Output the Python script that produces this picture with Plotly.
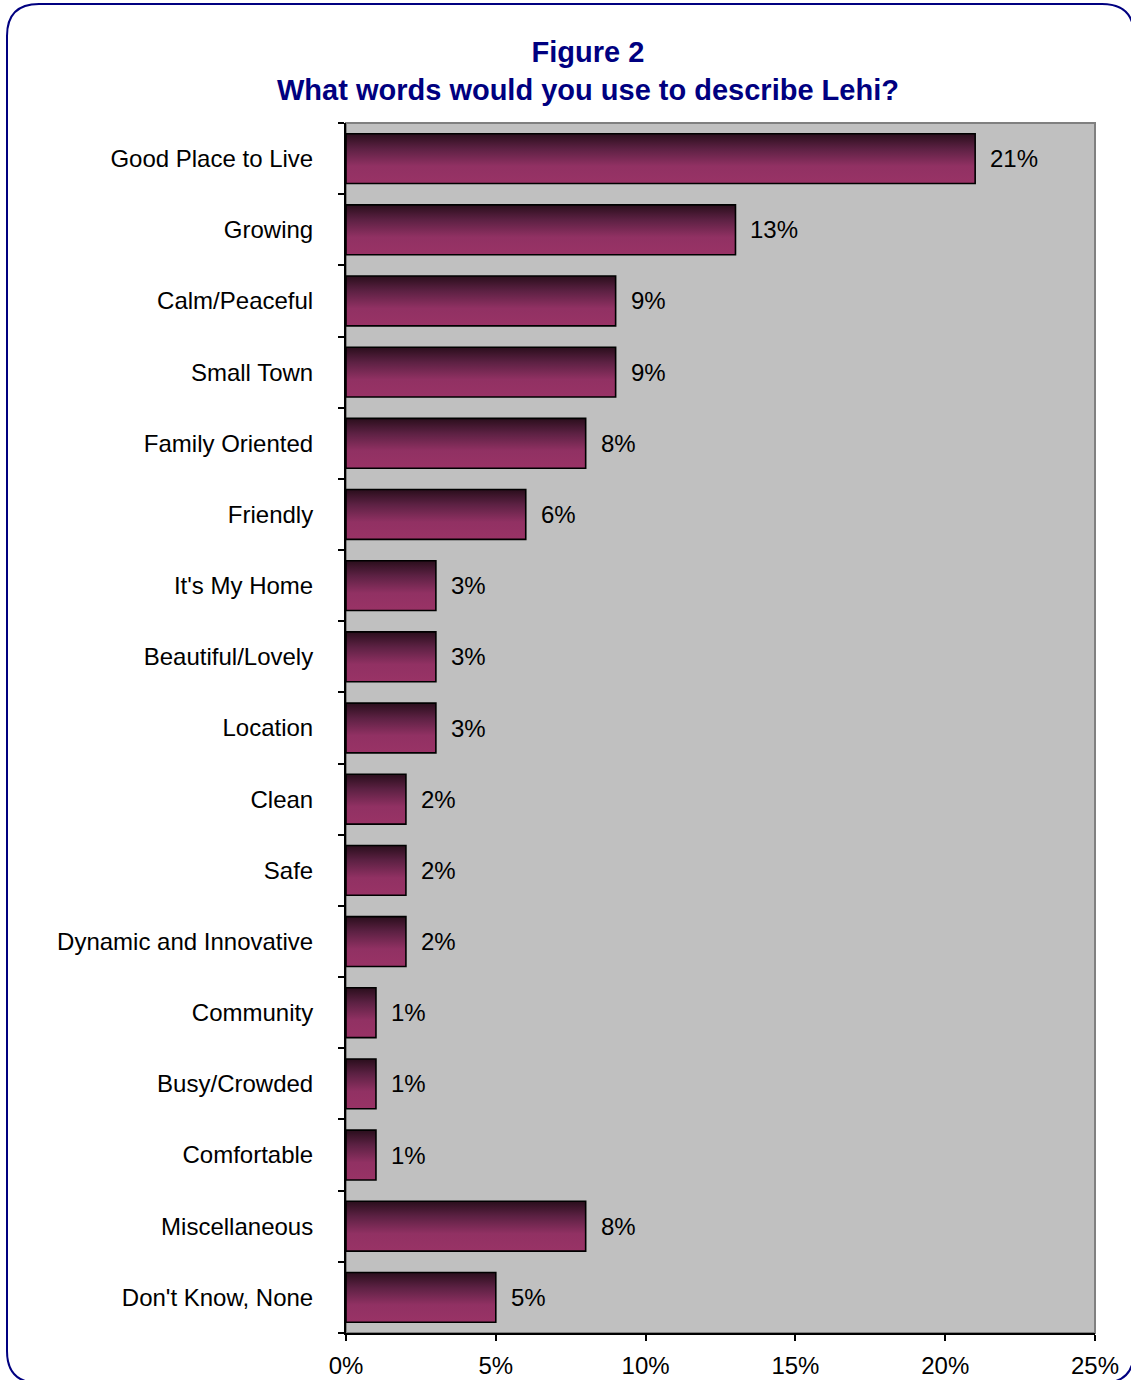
import plotly.graph_objects as go

# Survey responses: words used to describe Lehi (percent of respondents)
categories = [
    "Good Place to Live", "Growing", "Calm/Peaceful", "Small Town",
    "Family Oriented", "Friendly", "It's My Home", "Beautiful/Lovely",
    "Location", "Clean", "Safe", "Dynamic and Innovative", "Community",
    "Busy/Crowded", "Comfortable", "Miscellaneous", "Don't Know, None",
]
values = [21, 13, 9, 9, 8, 6, 3, 3, 3, 2, 2, 2, 1, 1, 1, 8, 5]
x_ticks = [0, 5, 10, 15, 20, 25]

W, H = 1131, 1380
L, R, T, B = 346, 36, 123, 47
PW, PH = W - L - R, H - T - B

FONT = "Liberation Sans, Arial"

n = len(categories)
ypos = [n - 1 - i for i in range(n)]  # first category at the top
half = 0.35

bar_scale = [[0.0, "#993366"], [0.35, "#913163"], [0.7, "#5c2143"], [1.0, "#2a0e1c"]]

fig = go.Figure()
for cat, v, y in zip(categories, values, ypos):
    fig.add_trace(go.Scatter(
        x=[0, v, v, 0, 0],
        y=[y - half, y - half, y + half, y + half, y - half],
        mode="lines",
        fill="toself",
        fillgradient=dict(type="vertical", colorscale=bar_scale),
        line=dict(color="black", width=1.6),
        name=cat,
        hoverinfo="skip",
        showlegend=False,
    ))

annotations = []
for v, y in zip(values, ypos):
    annotations.append(dict(
        x=v, y=y, xref="x", yref="y", text=f"{v}%", showarrow=False,
        xanchor="left", yanchor="middle", xshift=13,
        font=dict(family=FONT, size=24, color="black"),
    ))

annotations.append(dict(
    x=(588 - L) / PW, y=(H - B - 71) / PH, xref="paper", yref="paper",
    text="<b>Figure 2</b><br><b>What words would you use to describe Lehi?</b>",
    showarrow=False, xanchor="center", yanchor="middle", align="center",
    font=dict(family=FONT, size=29, color="#000080"),
))


def px(xp):
    return (xp - L) / PW


def py(yp):
    return (H - B - yp) / PH


# rounded outer frame
x0, y0, x1, y1, r = 7, 4, 1134, 1383, 32
frame = (
    f"M {px(x0)},{py(y0 + r)} Q {px(x0)},{py(y0)} {px(x0 + r)},{py(y0)} "
    f"L {px(x1 - r)},{py(y0)} Q {px(x1)},{py(y0)} {px(x1)},{py(y0 + r)} "
    f"L {px(x1)},{py(y1 - r)} Q {px(x1)},{py(y1)} {px(x1 - r)},{py(y1)} "
    f"L {px(x0 + r)},{py(y1)} Q {px(x0)},{py(y1)} {px(x0)},{py(y1 - r)} Z"
)

shapes = [
    dict(type="path", path=frame, xref="paper", yref="paper",
         line=dict(color="#000080", width=2), layer="above"),
    dict(type="rect", xref="x domain", yref="y domain", x0=0, x1=1, y0=0, y1=1,
         line=dict(color="#808080", width=2), layer="below"),
]

fig.update_layout(
    width=W, height=H,
    margin=dict(l=L, r=R, t=T, b=B, pad=0, autoexpand=False),
    paper_bgcolor="white",
    plot_bgcolor="#C0C0C0",
    annotations=annotations,
    shapes=shapes,
    showlegend=False,
    font=dict(family=FONT, size=24, color="black"),
    xaxis=dict(
        range=[0, 25], tickvals=x_ticks, ticktext=[f"{t}%" for t in x_ticks],
        showgrid=False, zeroline=False, showline=True, linecolor="black",
        linewidth=2, ticks="outside", ticklen=6, tickwidth=2, tickcolor="black",
        ticklabelstandoff=4, tickfont=dict(size=24), fixedrange=True,
        automargin=False,
    ),
    yaxis=dict(
        range=[-0.5, n - 0.5], tickvals=ypos, ticktext=categories,
        showgrid=False, zeroline=False, showline=True, linecolor="black",
        linewidth=2, ticks="", ticklabelstandoff=26,
        tickfont=dict(size=24), automargin=False,
        minor=dict(tickvals=[i + 0.5 for i in range(-1, n)], ticks="outside",
                   ticklen=6, tickwidth=2, tickcolor="black", showgrid=False),
        fixedrange=True,
    ),
)

fig.write_html("out.html")
